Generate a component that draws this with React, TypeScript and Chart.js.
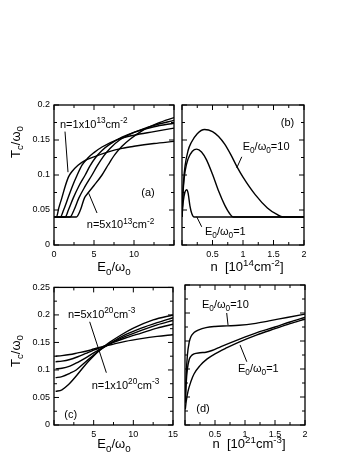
import React, { useEffect, useRef } from 'react';
import { Chart, registerables } from 'chart.js';

Chart.register(...registerables);

type P = [number, number];
type Seg = { t: string; s?: 'sub' | 'sup' };

// ---------- Panel (a): Tc/ω0 vs E0/ω0, n = 1..5 x10^13 cm^-2 ----------
const aN1: P[] = [[0, 0.04], [0.3, 0.04], [0.6, 0.053], [1.0, 0.068], [1.4, 0.084], [1.8, 0.097], [2.25, 0.105], [3, 0.114], [3.9, 0.121], [5, 0.126], [6.8, 0.133], [8.5, 0.138], [10, 0.141], [12.5, 0.145], [15, 0.148]];
const aN2: P[] = [[0, 0.04], [0.8, 0.04], [1.2, 0.05], [1.75, 0.067], [2.3, 0.084], [2.9, 0.1], [3.5, 0.114], [4.2, 0.124], [5, 0.132], [6, 0.14], [8, 0.151], [10, 0.157], [12.5, 0.162], [15, 0.167]];
const aN3: P[] = [[0, 0.04], [1.4, 0.04], [1.8, 0.05], [2.4, 0.067], [3.1, 0.084], [3.9, 0.1], [4.5, 0.113], [5.2, 0.125], [6, 0.135], [7, 0.144], [8.5, 0.154], [10, 0.161], [12.5, 0.169], [15, 0.174]];
const aN4: P[] = [[0, 0.04], [2.0, 0.04], [2.5, 0.05], [3.1, 0.067], [3.9, 0.084], [4.75, 0.1], [5.4, 0.113], [6.2, 0.127], [7, 0.138], [8.2, 0.15], [10, 0.161], [12.5, 0.171], [15, 0.178]];
const aN5: P[] = [[0, 0.04], [2.8, 0.04], [3.3, 0.05], [3.8, 0.067], [4.3, 0.075], [5.0, 0.085], [6, 0.1], [6.8, 0.115], [7.6, 0.129], [8.5, 0.141], [9.5, 0.151], [11, 0.163], [13, 0.174], [15, 0.182]];

// ---------- Panel (b): Tc/ω0 vs n [10^14 cm^-2] ----------
const bE10: P[] = [[0, 0.04], [0.01, 0.065], [0.025, 0.09], [0.05, 0.113], [0.1, 0.135], [0.15, 0.146], [0.25, 0.159], [0.37, 0.165], [0.5, 0.162], [0.6, 0.155], [0.7, 0.144], [0.8, 0.129], [0.9, 0.112], [1.0, 0.097], [1.2, 0.072], [1.4, 0.053], [1.55, 0.044], [1.66, 0.04], [2, 0.04]];
const bE5: P[] = [[0, 0.04], [0.01, 0.062], [0.025, 0.085], [0.05, 0.105], [0.1, 0.123], [0.17, 0.134], [0.24, 0.137], [0.32, 0.133], [0.4, 0.122], [0.5, 0.101], [0.6, 0.077], [0.7, 0.057], [0.78, 0.045], [0.84, 0.04], [2, 0.04]];
const bE1: P[] = [[0, 0.04], [0.02, 0.062], [0.05, 0.076], [0.077, 0.079], [0.1, 0.074], [0.13, 0.056], [0.16, 0.045], [0.2, 0.04], [2, 0.04]];

// ---------- Panel (c): Tc/ω0 vs E0/ω0, n = 1..5 x10^20 cm^-3 ----------
const cN1: P[] = [[0.2, 0.061], [1, 0.064], [1.8, 0.073], [2.8, 0.089], [3.7, 0.105], [4.5, 0.118], [5.75, 0.136], [7, 0.15], [8.5, 0.164], [10, 0.176], [12.5, 0.191], [15, 0.2]];
const cN2: P[] = [[0.2, 0.086], [1, 0.088], [2, 0.094], [2.8, 0.1], [4, 0.115], [5, 0.127], [6, 0.138], [7.5, 0.152], [9, 0.164], [11, 0.176], [13, 0.186], [15, 0.195]];
const cN3: P[] = [[0.2, 0.102], [1, 0.103], [2, 0.107], [3, 0.114], [4, 0.122], [5, 0.131], [6, 0.139], [7.5, 0.151], [9, 0.161], [11, 0.172], [13, 0.182], [15, 0.19]];
const cN4: P[] = [[0.2, 0.115], [1, 0.116], [2, 0.119], [3, 0.124], [4, 0.13], [5, 0.136], [6, 0.141], [7.5, 0.15], [9, 0.158], [11, 0.167], [13, 0.176], [15, 0.183]];
const cN5: P[] = [[0.2, 0.125], [1, 0.126], [2, 0.128], [3, 0.131], [4, 0.134], [5, 0.138], [6, 0.142], [7.5, 0.147], [9, 0.152], [11, 0.157], [13, 0.161], [15, 0.164]];

// ---------- Panel (d): Tc/ω0 vs n [10^21 cm^-3] ----------
const dE10: P[] = [[0.005, 0.04], [0.02, 0.09], [0.04, 0.125], [0.07, 0.148], [0.1, 0.158], [0.15, 0.165], [0.23, 0.17], [0.35, 0.174], [0.5, 0.176], [0.7, 0.177], [0.9, 0.178], [1.15, 0.181], [1.4, 0.186], [1.7, 0.192], [2, 0.198]];
const dE5: P[] = [[0.005, 0.04], [0.02, 0.075], [0.04, 0.1], [0.07, 0.117], [0.1, 0.123], [0.15, 0.127], [0.25, 0.129], [0.35, 0.13], [0.45, 0.133], [0.6, 0.14], [0.9, 0.153], [1.2, 0.165], [1.5, 0.175], [1.75, 0.184], [2, 0.192]];
const dE1: P[] = [[0.005, 0.028], [0.02, 0.042], [0.05, 0.06], [0.1, 0.078], [0.15, 0.091], [0.25, 0.106], [0.37, 0.118], [0.5, 0.127], [0.7, 0.138], [0.9, 0.148], [1.2, 0.161], [1.5, 0.172], [1.75, 0.181], [2, 0.189]];

// ---------- Ticks ----------
const E_X_TICKS = [0, 5, 10, 15];
const E_X_MINOR = [2.5, 7.5, 12.5];
const A_X_LABELS = ['0', '5', '10', ''];
const C_X_LABELS = ['', '5', '10', '15'];
const N_X_TICKS = [0, 0.5, 1, 1.5, 2];
const N_X_MINOR = [0.25, 0.75, 1.25, 1.75];
const N_X_LABELS = ['', '0.5', '1', '1.5', '2'];
const AB_Y_TICKS = [0, 0.05, 0.1, 0.15, 0.2];
const AB_Y_MINOR = [0.025, 0.075, 0.125, 0.175];
const AB_Y_LABELS = ['0', '0.05', '0.1', '0.15', '0.2'];
const CD_Y_TICKS = [0, 0.05, 0.1, 0.15, 0.2, 0.25];
const CD_Y_MINOR = [0.025, 0.075, 0.125, 0.175, 0.225];
const CD_Y_LABELS = ['0', '0.05', '0.1', '0.15', '0.2', '0.25'];

// ---------- Text ----------
const ratio = (v: string): Seg[] => [{ t: 'E' }, { t: '0', s: 'sub' }, { t: '/ω' }, { t: '0', s: 'sub' }, { t: v }];
const dens = (m: string, e: string, u: string): Seg[] => [{ t: 'n=' + m + 'x10' }, { t: e, s: 'sup' }, { t: 'cm' }, { t: u, s: 'sup' }];
const E_TITLE: Seg[] = [{ t: 'E' }, { t: '0', s: 'sub' }, { t: '/ω' }, { t: '0', s: 'sub' }];
const T_TITLE: Seg[] = [{ t: 'T' }, { t: 'c', s: 'sub' }, { t: '/ω' }, { t: '0', s: 'sub' }];
const N2_TITLE: Seg[] = [{ t: 'n  [10' }, { t: '14', s: 'sup' }, { t: 'cm' }, { t: '-2', s: 'sup' }, { t: ']' }];
const N3_TITLE: Seg[] = [{ t: 'n  [10' }, { t: '21', s: 'sup' }, { t: 'cm' }, { t: '-3', s: 'sup' }, { t: ']' }];

const FONT = '"Liberation Sans", Arial, Helvetica, sans-serif';

function drawRich(ctx: CanvasRenderingContext2D, segs: Seg[], x: number, y: number, size: number, align: 'left' | 'center') {
  const sz = (s: Seg) => (s.s ? size * 0.75 : size);
  let w = 0;
  for (const s of segs) {
    ctx.font = `${sz(s)}px ${FONT}`;
    w += ctx.measureText(s.t).width;
  }
  let cx = align === 'center' ? x - w / 2 : x;
  ctx.textAlign = 'left';
  ctx.textBaseline = 'alphabetic';
  for (const s of segs) {
    ctx.font = `${sz(s)}px ${FONT}`;
    const dy = s.s === 'sub' ? size * 0.3 : s.s === 'sup' ? -size * 0.42 : 0;
    ctx.fillText(s.t, cx, y + dy);
    cx += ctx.measureText(s.t).width;
  }
}

type Label = { x: number; y: number; segs: Seg[]; size: number; align: 'left' | 'center' };
type Title = { x: number; y: number; segs: Seg[]; rotate?: boolean };

interface PanelCfg {
  left: number; top: number; width: number; height: number;
  pad: { left: number; right: number; top: number; bottom: number };
  yWidth: number; xHeight: number;
  series: P[][];
  xMax: number; yMax: number;
  xTicks: number[]; xLabels: string[]; xMinor: number[];
  yTicks: number[]; yLabels: string[] | null; yMinor: number[];
  labels: Label[];
  pointers: [P, P][];
  titles: Title[];
}

function Panel({ cfg }: { cfg: PanelCfg }) {
  const ref = useRef<HTMLCanvasElement>(null);
  useEffect(() => {
    const canvas = ref.current!;
    const decor = {
      id: 'decor',
      afterDraw(chart: any) {
        const { ctx, chartArea: ca, scales } = chart;
        const xs = scales.x, ys = scales.y;
        ctx.save();
        ctx.strokeStyle = '#000';
        ctx.fillStyle = '#000';
        const line = (x1: number, y1: number, x2: number, y2: number) => {
          ctx.beginPath(); ctx.moveTo(x1, y1); ctx.lineTo(x2, y2); ctx.stroke();
        };
        ctx.lineWidth = 1;
        const tx = (vals: number[], len: number) => vals.forEach((v) => {
          const p = xs.getPixelForValue(v);
          line(p, ca.bottom, p, ca.bottom - len);
          line(p, ca.top, p, ca.top + len);
        });
        const ty = (vals: number[], len: number) => vals.forEach((v) => {
          const p = ys.getPixelForValue(v);
          line(ca.left, p, ca.left + len, p);
          line(ca.right, p, ca.right - len, p);
        });
        tx(cfg.xTicks, 5); tx(cfg.xMinor, 3);
        ty(cfg.yTicks, 5); ty(cfg.yMinor, 3);
        ctx.lineWidth = 1.3;
        ctx.strokeRect(ca.left, ca.top, ca.right - ca.left, ca.bottom - ca.top);
        ctx.lineWidth = 1;
        cfg.pointers.forEach(([a, b]) => {
          line(xs.getPixelForValue(a[0]), ys.getPixelForValue(a[1]), xs.getPixelForValue(b[0]), ys.getPixelForValue(b[1]));
        });
        cfg.labels.forEach((l) => {
          drawRich(ctx, l.segs, xs.getPixelForValue(l.x), ys.getPixelForValue(l.y), l.size, l.align);
        });
        cfg.titles.forEach((t) => {
          if (t.rotate) {
            ctx.save();
            ctx.translate(t.x, t.y);
            ctx.rotate(-Math.PI / 2);
            drawRich(ctx, t.segs, 0, 0, 13, 'center');
            ctx.restore();
          } else {
            drawRich(ctx, t.segs, t.x, t.y, 13, 'center');
          }
        });
        ctx.restore();
      },
    };
    const tickFont = { family: FONT, size: 9 };
    const chart = new Chart(canvas, {
      type: 'line',
      data: {
        datasets: cfg.series.map((s) => ({
          data: s.map(([x, y]) => ({ x, y })),
          borderColor: '#000',
          borderWidth: 1.4,
          pointRadius: 0,
          fill: false,
          cubicInterpolationMode: 'monotone' as const,
        })),
      },
      options: {
        animation: false,
        responsive: false,
        maintainAspectRatio: false,
        devicePixelRatio: 1,
        events: [],
        layout: { padding: cfg.pad },
        plugins: { legend: { display: false }, tooltip: { enabled: false }, title: { display: false } },
        scales: {
          x: {
            type: 'linear', min: 0, max: cfg.xMax, position: 'bottom',
            grid: { display: false, drawTicks: false }, border: { display: false },
            afterBuildTicks: (s: any) => { s.ticks = cfg.xTicks.map((v) => ({ value: v })); },
            afterFit: (s: any) => { s.height = cfg.xHeight; },
            ticks: { autoSkip: false, maxRotation: 0, padding: 4, color: '#000', font: tickFont, callback: (_v: any, i: number) => cfg.xLabels[i] },
          },
          y: {
            type: 'linear', min: 0, max: cfg.yMax, position: 'left',
            grid: { display: false, drawTicks: false }, border: { display: false },
            afterBuildTicks: (s: any) => { s.ticks = cfg.yTicks.map((v) => ({ value: v })); },
            afterFit: (s: any) => { s.width = cfg.yWidth; },
            ticks: { display: !!cfg.yLabels, autoSkip: false, padding: 4, color: '#000', font: tickFont, callback: (_v: any, i: number) => (cfg.yLabels ? cfg.yLabels[i] : '') },
          },
        },
      } as any,
      plugins: [decor],
    });
    return () => chart.destroy();
  }, [cfg]);
  return (
    <canvas
      ref={ref}
      width={cfg.width}
      height={cfg.height}
      style={{ position: 'absolute', left: cfg.left, top: cfg.top, width: cfg.width, height: cfg.height }}
    />
  );
}

const PANELS: PanelCfg[] = [
  {
    left: 0, top: 95, width: 178, height: 185,
    pad: { left: 0, right: 4, top: 10, bottom: 0 }, yWidth: 54, xHeight: 35,
    series: [aN1, aN2, aN3, aN4, aN5], xMax: 15, yMax: 0.2,
    xTicks: E_X_TICKS, xLabels: A_X_LABELS, xMinor: E_X_MINOR,
    yTicks: AB_Y_TICKS, yLabels: AB_Y_LABELS, yMinor: AB_Y_MINOR,
    labels: [
      { x: 0.75, y: 0.167, segs: dens('1', '13', '-2'), size: 11, align: 'left' },
      { x: 4.1, y: 0.024, segs: dens('5', '13', '-2'), size: 11, align: 'left' },
      { x: 11.75, y: 0.07, segs: [{ t: '(a)' }], size: 11, align: 'center' },
    ],
    pointers: [[[1.375, 0.162], [1.75, 0.104]], [[5.375, 0.0457], [4.34, 0.0739]]],
    titles: [{ x: 114, y: 176, segs: E_TITLE }, { x: 19.5, y: 47, segs: T_TITLE, rotate: true }],
  },
  {
    left: 178, top: 95, width: 179, height: 185,
    pad: { left: 0, right: 53, top: 10, bottom: 0 }, yWidth: 4, xHeight: 35,
    series: [bE10, bE5, bE1], xMax: 2, yMax: 0.2,
    xTicks: N_X_TICKS, xLabels: N_X_LABELS, xMinor: N_X_MINOR,
    yTicks: AB_Y_TICKS, yLabels: null, yMinor: AB_Y_MINOR,
    labels: [
      { x: 1.73, y: 0.17, segs: [{ t: '(b)' }], size: 11, align: 'center' },
      { x: 0.995, y: 0.136, segs: ratio('=10'), size: 11, align: 'left' },
      { x: 0.377, y: 0.0143, segs: ratio('=1'), size: 11, align: 'left' },
    ],
    pointers: [[[0.98, 0.126], [0.897, 0.11]], [[0.241, 0.0404], [0.323, 0.026]]],
    titles: [{ x: 69, y: 176, segs: N2_TITLE }],
  },
  {
    left: 0, top: 278, width: 182, height: 184,
    pad: { left: 0, right: 7, top: 7, bottom: 0 }, yWidth: 54, xHeight: 37,
    series: [cN1, cN2, cN3, cN4, cN5], xMax: 15, yMax: 0.25,
    xTicks: E_X_TICKS, xLabels: C_X_LABELS, xMinor: E_X_MINOR,
    yTicks: CD_Y_TICKS, yLabels: CD_Y_LABELS, yMinor: CD_Y_MINOR,
    labels: [
      { x: 1.75, y: 0.195, segs: dens('5', '20', '-3'), size: 11, align: 'left' },
      { x: 4.75, y: 0.066, segs: dens('1', '20', '-3'), size: 11, align: 'left' },
      { x: 2.1, y: 0.0125, segs: [{ t: '(c)' }], size: 11, align: 'center' },
    ],
    pointers: [[[4.5, 0.1875], [6.6, 0.095]]],
    titles: [{ x: 114, y: 170, segs: E_TITLE }, { x: 19.5, y: 73, segs: T_TITLE, rotate: true }],
  },
  {
    left: 180, top: 278, width: 177, height: 184,
    pad: { left: 0, right: 52, top: 7, bottom: 0 }, yWidth: 5, xHeight: 37,
    series: [dE10, dE5, dE1], xMax: 2, yMax: 0.25,
    xTicks: N_X_TICKS, xLabels: N_X_LABELS, xMinor: N_X_MINOR,
    yTicks: CD_Y_TICKS, yLabels: null, yMinor: CD_Y_MINOR,
    labels: [
      { x: 0.283, y: 0.209, segs: ratio('=10'), size: 11, align: 'left' },
      { x: 0.883, y: 0.0946, segs: ratio('=1'), size: 11, align: 'left' },
      { x: 0.3, y: 0.023, segs: [{ t: '(d)' }], size: 11, align: 'center' },
    ],
    pointers: [[[0.695, 0.2], [0.717, 0.1786]], [[1.03, 0.113], [0.917, 0.143]]],
    titles: [{ x: 69, y: 170, segs: N3_TITLE }],
  },
];

export default function App() {
  return (
    <div style={{ position: 'absolute', left: 0, top: 0, width: 357, height: 462, background: '#fff', overflow: 'hidden' }}>
      {PANELS.map((p, i) => (
        <Panel key={i} cfg={p} />
      ))}
    </div>
  );
}
